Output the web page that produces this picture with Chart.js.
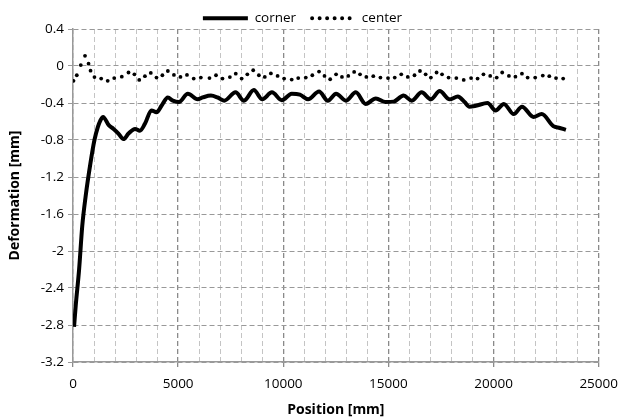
<!DOCTYPE html>
<html>
<head>
<meta charset="utf-8">
<script src="https://cdn.jsdelivr.net/npm/chart.js@4/dist/chart.umd.min.js"></script>
<style>
  html, body { margin: 0; padding: 0; background: #fff; }
  #wrap { width: 627px; height: 419px; }
</style>
</head>
<body>
<div id="wrap"><canvas id="myChart"></canvas></div>
<script>
// corner series (position mm, deformation mm)
const cornerX = [50, 130, 290, 440, 600, 830, 1020, 1180, 1300, 1430, 1700, 1930, 2160, 2400, 2640, 2950, 3180, 3420, 3730, 3970, 4210, 4510, 4750, 5040, 5460, 5930, 6170, 6560, 6870, 7190, 7730, 8130, 8600, 9000, 9460, 9930, 10400, 10790, 11180, 11700, 12120, 12510, 12980, 13450, 13920, 14400, 14860, 15250, 15720, 16110, 16580, 17020, 17440, 17910, 18300, 18620, 18850, 19160, 19710, 20100, 20490, 20960, 21350, 21900, 22290, 22840, 23150, 23440];
const cornerY = [-2.82, -2.59, -2.20, -1.73, -1.41, -1.05, -0.80, -0.66, -0.59, -0.55, -0.64, -0.68, -0.73, -0.79, -0.73, -0.68, -0.70, -0.625, -0.48, -0.50, -0.43, -0.34, -0.375, -0.39, -0.30, -0.36, -0.34, -0.32, -0.34, -0.375, -0.285, -0.375, -0.26, -0.36, -0.285, -0.37, -0.30, -0.31, -0.36, -0.275, -0.375, -0.30, -0.375, -0.285, -0.41, -0.35, -0.39, -0.385, -0.32, -0.375, -0.285, -0.36, -0.27, -0.36, -0.33, -0.39, -0.44, -0.43, -0.40, -0.48, -0.41, -0.52, -0.44, -0.55, -0.52, -0.65, -0.67, -0.69];

// center series
const centerX = [25, 180, 370, 570, 740, 835, 1020, 1340, 1650, 1960, 2320, 2640, 2920, 3150, 3420, 3700, 3970, 4250, 4510, 4800, 5110, 5420, 5740, 6080, 6490, 6800, 7110, 7460, 7740, 8020, 8290, 8570, 8840, 9120, 9410, 9730, 10040, 10400, 10710, 11070, 11380, 11700, 11960, 12230, 12510, 12790, 13090, 13370, 13650, 13950, 14280, 14620, 14980, 15300, 15610, 15920, 16240, 16500, 16770, 17020, 17290, 17550, 17860, 18230, 18580, 18930, 19240, 19520, 19840, 20150, 20410, 20730, 21040, 21350, 21620, 21980, 22340, 22650, 22970, 23310];
const centerY = [-0.16, -0.10, 0.01, 0.11, 0.025, -0.05, -0.12, -0.136, -0.16, -0.13, -0.115, -0.07, -0.09, -0.15, -0.11, -0.075, -0.125, -0.10, -0.054, -0.096, -0.118, -0.096, -0.136, -0.125, -0.13, -0.10, -0.136, -0.12, -0.083, -0.136, -0.09, -0.046, -0.10, -0.118, -0.08, -0.107, -0.136, -0.147, -0.13, -0.125, -0.10, -0.06, -0.107, -0.143, -0.09, -0.118, -0.107, -0.064, -0.09, -0.118, -0.11, -0.125, -0.13, -0.125, -0.09, -0.118, -0.10, -0.054, -0.09, -0.125, -0.07, -0.09, -0.125, -0.13, -0.15, -0.13, -0.136, -0.09, -0.107, -0.125, -0.07, -0.107, -0.115, -0.083, -0.125, -0.125, -0.104, -0.11, -0.13, -0.136];

const seriesNames = ['corner', 'center'];
const xTitle = 'Position [mm]';
const yTitle = 'Deformation [mm]';

function pts(xs, ys) {
  var out = [];
  for (var i = 0; i < xs.length; i++) out.push({x: xs[i], y: ys[i]});
  return out;
}

const FONT = "'Open Sans', sans-serif";

// push the legend down a bit without moving the plot area
const legendShift = {
  id: 'legendShift',
  afterLayout: function(chart) {
    if (chart.legend) {
      chart.legend.top += 6;
      chart.legend.bottom += 6;
    }
  }
};

new Chart(document.getElementById('myChart'), {
  type: 'line',
  plugins: [legendShift],
  data: {
    datasets: [{
      label: seriesNames[0],
      data: pts(cornerX, cornerY),
      borderColor: '#000',
      backgroundColor: '#000',
      borderWidth: 4,
      pointRadius: 0,
      cubicInterpolationMode: 'monotone'
    }, {
      label: seriesNames[1],
      data: pts(centerX, centerY),
      showLine: false,
      borderColor: '#000',
      backgroundColor: '#000',
      pointRadius: 1.9,
      pointBorderWidth: 0,
      pointBackgroundColor: '#000'
    }]
  },
  options: {
    responsive: true,
    maintainAspectRatio: false,
    animation: false,
    layout: { padding: { left: 0, right: 22, top: -8.5, bottom: 0 } },
    plugins: {
      legend: {
        position: 'top',
        labels: {
          usePointStyle: true,
          pointStyleWidth: 45,
          boxHeight: 4,
          padding: 14,
          color: '#000',
          font: { family: FONT, size: 13.5 },
          generateLabels: function(chart) {
            var items = Chart.defaults.plugins.legend.labels.generateLabels(chart);
            items.forEach(function(it) {
              it.pointStyle = 'line';
              it.strokeStyle = '#000';
              it.fillStyle = '#000';
              it.lineWidth = 4;
            });
            items[1].lineDash = [0, 7.5];
            items[1].lineCap = 'round';
            items[1].lineDashOffset = -2;
            return items;
          }
        }
      },
      tooltip: { enabled: false }
    },
    scales: {
      x: {
        type: 'linear',
        min: 0,
        max: 25000,
        afterBuildTicks: function(scale) {
          var t = [];
          for (var v = 0; v <= 25000; v += 1000) t.push({value: v});
          scale.ticks = t;
        },
        afterFit: function(scale) { scale.height = 57; },
        ticks: {
          autoSkip: false,
          maxRotation: 0,
          color: '#000',
          font: { family: FONT, size: 13.5 },
          padding: 9,
          callback: function(v) { return v % 5000 === 0 ? String(v) : ''; }
        },
        grid: {
          color: function(ctx) { return ctx.tick && ctx.tick.value % 5000 === 0 ? '#8a8a8a' : '#c4c4c4'; },
          lineWidth: function(ctx) { return ctx.tick && ctx.tick.value % 5000 === 0 ? 1.3 : 1; },
          tickColor: function(ctx) { return ctx.tick && ctx.tick.value % 5000 === 0 ? '#8a8a8a' : 'rgba(0,0,0,0)'; },
          tickLength: 5,
          borderDash: [5, 3]
        },
        border: { color: '#999', width: 1.5, dash: [5, 3] },
        title: {
          display: true,
          text: xTitle,
          color: '#000',
          font: { family: FONT, size: 14, weight: 'bold' },
          padding: { top: 0, bottom: 1 }
        }
      },
      y: {
        min: -3.2,
        max: 0.4,
        afterBuildTicks: function(scale) {
          var t = [];
          for (var i = 0; i <= 9; i++) t.push({value: Math.round((-3.2 + i * 0.4) * 10) / 10});
          scale.ticks = t;
        },
        afterFit: function(scale) { scale.width = 73; },
        ticks: {
          color: '#000',
          font: { family: FONT, size: 13.5 },
          padding: 4,
          callback: function(v) { return String(Math.round(v * 10) / 10); }
        },
        grid: {
          color: '#999',
          lineWidth: 1,
          tickColor: '#999',
          tickLength: 5,
          borderDash: [5, 3]
        },
        border: { color: '#999', width: 1.5, dash: [5, 3] },
        title: {
          display: true,
          text: yTitle,
          color: '#000',
          font: { family: FONT, size: 14, weight: 'bold' },
          padding: { top: 7, bottom: 0 }
        }
      }
    }
  }
});
</script>
</body>
</html>
